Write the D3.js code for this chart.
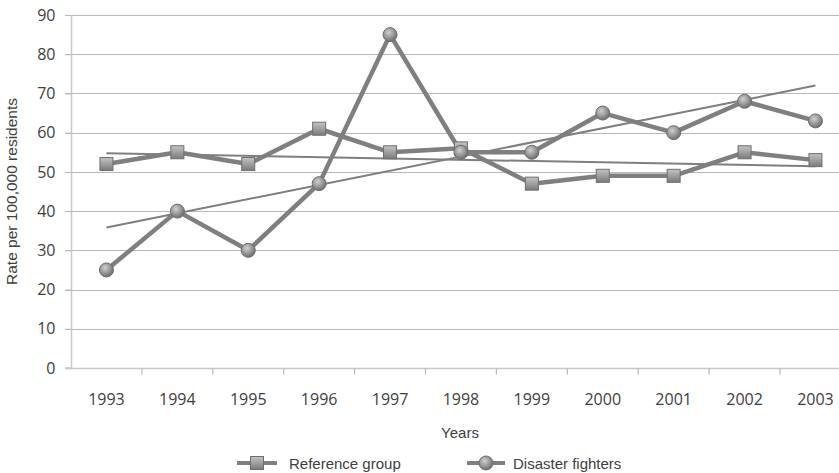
<!DOCTYPE html>
<html>
<head>
<meta charset="utf-8">
<script src="https://cdn.jsdelivr.net/npm/d3@7"></script>
<style>
  html, body { margin: 0; padding: 0; background: #fff; }
  svg { display: block; }
</style>
</head>
<body>
<svg id="chart" width="839" height="473"></svg>
<script>
// Annual rates per 100,000 residents
const years = ["1993","1994","1995","1996","1997","1998","1999","2000","2001","2002","2003"];
const referenceGroup = [52, 55, 52, 61, 55, 56, 47, 49, 49, 55, 53];
const disasterFighters = [25, 40, 30, 47, 85, 55, 55, 65, 60, 68, 63];
const yTicks = [0, 10, 20, 30, 40, 50, 60, 70, 80, 90];

const svg = d3.select("#chart");
const plotLeft = 71, plotTop = 15, plotBottom = 368;
const band = 70.9;
const plotRight = plotLeft + band * years.length;

const x = d3.scaleBand().domain(years).range([plotLeft, plotRight]).paddingInner(0).paddingOuter(0);
const y = d3.scaleLinear().domain([0, 90]).range([plotBottom, plotTop]);
const cx = d => x(d) + x.bandwidth() / 2;

const lineColor = "#7f7f7f";
const textColor = "#404040";
const tickFont = "'Open Sans', sans-serif";
const titleFont = "'Liberation Sans', Arial, sans-serif";

// gradients for the markers
const defs = svg.append("defs");
const grad = defs.append("linearGradient").attr("id", "mk").attr("x1", 0).attr("y1", 0).attr("x2", 0).attr("y2", 1);
grad.append("stop").attr("offset", "0%").attr("stop-color", "#c4c4c4");
grad.append("stop").attr("offset", "100%").attr("stop-color", "#7a7a7a");
const rgrad = defs.append("radialGradient").attr("id", "mkc").attr("cx", "40%").attr("cy", "35%").attr("r", "65%");
rgrad.append("stop").attr("offset", "0%").attr("stop-color", "#d0d0d0");
rgrad.append("stop").attr("offset", "100%").attr("stop-color", "#6e6e6e");

// horizontal gridlines
svg.append("g").selectAll("line").data(yTicks.filter(t => t > 0)).join("line")
  .attr("x1", plotLeft - 6).attr("x2", plotRight)
  .attr("y1", d => Math.round(y(d)) + 0.5).attr("y2", d => Math.round(y(d)) + 0.5)
  .attr("stroke", "#b8b8b8").attr("stroke-width", 1.2);

// y axis
const yAxis = d3.axisLeft(y).tickValues(yTicks).tickSize(6).tickPadding(10);
const gy = svg.append("g").attr("transform", `translate(${plotLeft + 0.5},0)`).call(yAxis);
gy.select(".domain").attr("stroke", "#c8c8c8").attr("stroke-width", 1.5).attr("d", `M-6,${plotBottom}H0V${plotTop}`);
gy.selectAll(".tick line").attr("stroke", "#b8b8b8");
gy.selectAll(".tick text").attr("fill", textColor).style("font-family", tickFont).style("font-size", "16px");

// x axis with ticks between categories
const gx = svg.append("g").attr("transform", `translate(0,${plotBottom + 0.5})`);
gx.append("line").attr("x1", plotLeft - 6).attr("x2", plotRight).attr("stroke", "#c8c8c8").attr("stroke-width", 1.5);
gx.selectAll("line.tk").data(years.slice(1)).join("line").attr("class", "tk")
  .attr("x1", d => x(d)).attr("x2", d => x(d)).attr("y1", 0).attr("y2", 6)
  .attr("stroke", "#b8b8b8").attr("stroke-width", 1.2);
gx.selectAll("text").data(years).join("text")
  .attr("x", d => cx(d)).attr("y", 36).attr("text-anchor", "middle")
  .attr("fill", textColor).style("font-family", tickFont).style("font-size", "16px")
  .text(d => d);

// axis titles
svg.append("text").attr("x", 460).attr("y", 438).attr("text-anchor", "middle")
  .attr("fill", textColor).style("font-family", titleFont).style("font-size", "15px")
  .text("Years");
svg.append("text").attr("transform", `translate(17,${(plotTop + plotBottom) / 2}) rotate(-90)`).attr("text-anchor", "middle")
  .attr("fill", textColor).style("font-family", titleFont).style("font-size", "15.5px")
  .text("Rate per 100,000 residents");

// least-squares trend line for a series
function trend(vals) {
  const n = vals.length, xs = d3.range(n);
  const mx = d3.mean(xs), my = d3.mean(vals);
  const slope = d3.sum(xs, i => (i - mx) * (vals[i] - my)) / d3.sum(xs, i => (i - mx) ** 2);
  const icpt = my - slope * mx;
  return [icpt, icpt + slope * (n - 1)];
}

const line = d3.line().x((d, i) => cx(years[i])).y(d => y(d));
const series = [
  { name: "Reference group", values: referenceGroup, shape: "square" },
  { name: "Disaster fighters", values: disasterFighters, shape: "circle" }
];

series.forEach(s => {
  svg.append("path").datum(s.values).attr("d", line)
    .attr("fill", "none").attr("stroke", lineColor).attr("stroke-width", 4.5).attr("stroke-linejoin", "round");
});

// trend lines
series.forEach(s => {
  const [a, b] = trend(s.values);
  svg.append("line")
    .attr("x1", cx(years[0])).attr("y1", y(a))
    .attr("x2", cx(years[years.length - 1])).attr("y2", y(b))
    .attr("stroke", lineColor).attr("stroke-width", 2);
});

function drawMarker(g, shape, px, py) {
  if (shape === "square") {
    g.append("rect").attr("x", px - 6.5).attr("y", py - 6.5).attr("width", 13).attr("height", 13)
      .attr("fill", "url(#mk)").attr("stroke", "#6e6e6e").attr("stroke-width", 1);
  } else {
    g.append("circle").attr("cx", px).attr("cy", py).attr("r", 7)
      .attr("fill", "url(#mkc)").attr("stroke", "#6e6e6e").attr("stroke-width", 1);
  }
}

series.forEach(s => {
  const g = svg.append("g");
  s.values.forEach((v, i) => drawMarker(g, s.shape, cx(years[i]), y(v)));
});

// legend
const legendItems = [
  { x1: 237, x2: 277, tx: 289, s: series[0] },
  { x1: 467, x2: 505, tx: 513, s: series[1] }
];
const ly = 463;
legendItems.forEach(it => {
  const g = svg.append("g");
  g.append("line").attr("x1", it.x1).attr("x2", it.x2).attr("y1", ly).attr("y2", ly)
    .attr("stroke", lineColor).attr("stroke-width", 4);
  drawMarker(g, it.s.shape, (it.x1 + it.x2) / 2, ly);
  g.append("text").attr("x", it.tx).attr("y", ly + 5.5)
    .attr("fill", textColor).style("font-family", titleFont).style("font-size", "15px")
    .text(it.s.name);
});
</script>
</body>
</html>
